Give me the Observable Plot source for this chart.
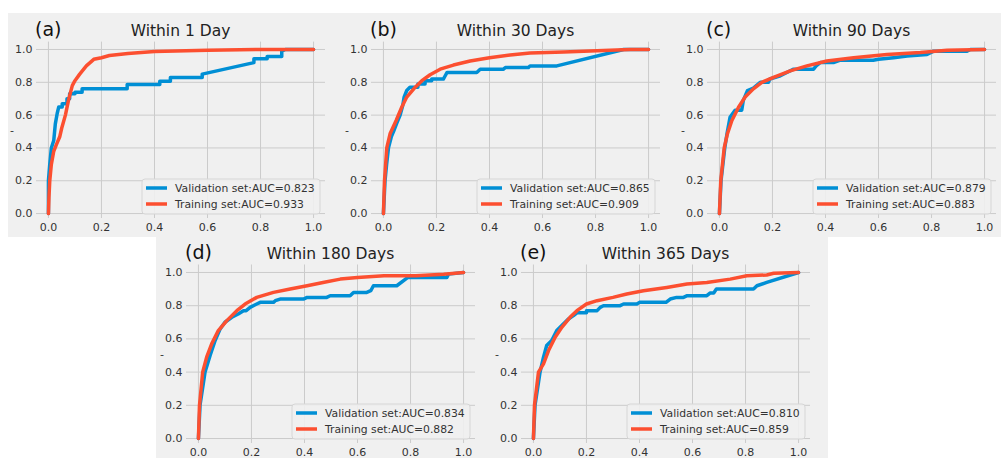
<!DOCTYPE html>
<html><head><meta charset="utf-8">
<script src="https://cdn.jsdelivr.net/npm/d3@7"></script>
<script src="https://cdn.jsdelivr.net/npm/@observablehq/plot@0.6"></script>
<style>
html,body{margin:0;padding:0;background:#fff;}
#root{position:relative;width:1001px;height:458px;overflow:hidden;font-family:"DejaVu Sans",sans-serif;}
#root svg{position:absolute;display:block;}
</style></head><body><div id="root"></div>
<script>
// ---- data ----
const letters = ["(a)", "(b)", "(c)", "(d)", "(e)"];
const titles = ["Within 1 Day", "Within 30 Days", "Within 90 Days", "Within 180 Days", "Within 365 Days"];
const valAUC = ["0.823", "0.865", "0.879", "0.834", "0.810"];
const trainAUC = ["0.933", "0.909", "0.883", "0.882", "0.859"];
const tickValues = [0, 0.2, 0.4, 0.6, 0.8, 1.0];
const tickLabels = ["0.0", "0.2", "0.4", "0.6", "0.8", "1.0"];

// ROC curves: [false positive rate, true positive rate]
const valA = [[0,0],[0,0.2],[0.005,0.3],[0.011,0.4],[0.02,0.445],[0.026,0.547],[0.033,0.61],[0.039,0.65],[0.052,0.65],[0.052,0.67],[0.07,0.67],[0.07,0.7],[0.08,0.7],[0.08,0.73],[0.1,0.73],[0.1,0.74],[0.127,0.74],[0.127,0.76],[0.297,0.76],[0.297,0.787],[0.42,0.787],[0.42,0.807],[0.46,0.807],[0.46,0.83],[0.58,0.83],[0.58,0.85],[0.775,0.92],[0.775,0.943],[0.825,0.943],[0.825,0.957],[0.88,0.957],[0.88,0.99],[0.894,1.0],[1,1]];
const trainA = [[0,0],[0.002,0.1],[0.005,0.2],[0.011,0.3],[0.02,0.38],[0.03,0.42],[0.043,0.47],[0.05,0.52],[0.064,0.6],[0.077,0.7],[0.09,0.78],[0.1,0.81],[0.118,0.85],[0.143,0.9],[0.171,0.94],[0.2,0.95],[0.23,0.963],[0.3,0.975],[0.4,0.988],[0.6,0.995],[0.8,1.0],[1,1]];
const valB = [[0,0],[0.003,0.1],[0.006,0.2],[0.012,0.3],[0.019,0.4],[0.03,0.47],[0.038,0.5],[0.05,0.55],[0.063,0.6],[0.073,0.66],[0.078,0.71],[0.088,0.75],[0.1,0.77],[0.13,0.77],[0.13,0.79],[0.157,0.79],[0.157,0.81],[0.182,0.81],[0.182,0.82],[0.226,0.82],[0.233,0.84],[0.24,0.86],[0.352,0.86],[0.365,0.88],[0.453,0.88],[0.46,0.89],[0.547,0.89],[0.553,0.9],[0.654,0.9],[0.906,1.0],[1,1]];
const trainB = [[0,0],[0.004,0.2],[0.0126,0.4],[0.025,0.486],[0.048,0.567],[0.069,0.648],[0.088,0.71],[0.12,0.77],[0.145,0.81],[0.176,0.846],[0.214,0.88],[0.264,0.905],[0.327,0.93],[0.4,0.95],[0.478,0.967],[0.553,0.978],[0.68,0.984],[0.805,0.992],[0.93,1.0],[1,1]];
const valC = [[0,0],[0.006,0.2],[0.02,0.4],[0.03,0.5],[0.04,0.587],[0.059,0.63],[0.084,0.63],[0.09,0.69],[0.106,0.75],[0.128,0.765],[0.154,0.8],[0.185,0.8],[0.19,0.82],[0.23,0.84],[0.254,0.86],[0.28,0.88],[0.355,0.88],[0.365,0.9],[0.38,0.92],[0.43,0.92],[0.456,0.935],[0.58,0.935],[0.6,0.94],[0.657,0.95],[0.708,0.96],[0.783,0.97],[0.808,0.99],[0.934,0.99],[0.947,1.0],[1,1]];
const trainC = [[0,0],[0.005,0.2],[0.018,0.4],[0.03,0.486],[0.047,0.567],[0.072,0.648],[0.097,0.71],[0.128,0.76],[0.16,0.8],[0.204,0.83],[0.267,0.87],[0.33,0.9],[0.405,0.93],[0.506,0.95],[0.632,0.97],[0.758,0.982],[0.859,0.996],[1,1]];
const valD = [[0,0],[0.006,0.2],[0.025,0.4],[0.044,0.5],[0.063,0.59],[0.082,0.66],[0.1,0.7],[0.126,0.73],[0.15,0.75],[0.17,0.77],[0.18,0.77],[0.195,0.79],[0.22,0.81],[0.233,0.82],[0.283,0.82],[0.29,0.83],[0.308,0.84],[0.396,0.84],[0.41,0.85],[0.484,0.85],[0.497,0.86],[0.572,0.86],[0.585,0.88],[0.635,0.88],[0.65,0.89],[0.66,0.92],[0.748,0.92],[0.79,0.97],[0.937,0.97],[0.943,0.99],[1,1]];
const trainD = [[0,0],[0.004,0.2],[0.016,0.4],[0.031,0.49],[0.05,0.57],[0.075,0.65],[0.107,0.71],[0.145,0.77],[0.176,0.81],[0.22,0.85],[0.283,0.88],[0.346,0.9],[0.41,0.92],[0.47,0.94],[0.535,0.96],[0.6,0.97],[0.7,0.98],[0.82,0.98],[0.925,0.99],[1,1]];
const valE = [[0,0],[0.006,0.2],[0.025,0.4],[0.038,0.49],[0.05,0.56],[0.069,0.59],[0.088,0.65],[0.107,0.68],[0.132,0.72],[0.151,0.74],[0.164,0.757],[0.2,0.757],[0.2,0.77],[0.24,0.77],[0.252,0.79],[0.264,0.8],[0.327,0.8],[0.34,0.81],[0.39,0.81],[0.4,0.82],[0.5,0.82],[0.516,0.84],[0.54,0.85],[0.566,0.85],[0.58,0.86],[0.654,0.86],[0.667,0.877],[0.68,0.877],[0.69,0.9],[0.83,0.9],[0.843,0.92],[0.88,0.94],[1,1]];
const trainE = [[0,0],[0.004,0.2],[0.019,0.4],[0.038,0.45],[0.057,0.53],[0.082,0.61],[0.107,0.67],[0.138,0.73],[0.164,0.77],[0.2,0.81],[0.24,0.83],[0.3,0.85],[0.352,0.87],[0.415,0.89],[0.503,0.91],[0.579,0.93],[0.654,0.94],[0.742,0.96],[0.805,0.98],[0.88,0.985],[0.906,0.995],[1,1]];

const valSeries = [valA, valB, valC, valD, valE];
const trainSeries = [trainA, trainB, trainC, trainD, trainE];

// ---- layout ----
const layout = [
  {left: 8,   top: 13,  width: 330, height: 224, mL: 28, mR: 13, mT: 28.6, mB: 19.0},
  {left: 338, top: 13,  width: 330, height: 224, mL: 33, mR: 8,  mT: 28.6, mB: 19.0},
  {left: 668, top: 13,  width: 333, height: 224, mL: 39, mR: 5,  mT: 28.6, mB: 19.0},
  {left: 156, top: 237, width: 337, height: 221, mL: 30, mR: 18, mT: 27.5, mB: 15.0},
  {left: 493, top: 237, width: 335, height: 221, mL: 28, mR: 18, mT: 27.5, mB: 15.0}
];
const BLUE = "#008fd5", RED = "#fc4f30", GRID = "#cbcbcb", BG = "#f0f0f0";
const FONT = "'DejaVu Sans', sans-serif";

const root = document.getElementById("root");
layout.forEach((L, i) => {
  const fmt = d => tickLabels[tickValues.indexOf(d)];
  const svg = Plot.plot({
    width: L.width, height: L.height,
    marginLeft: L.mL, marginRight: L.mR, marginTop: L.mT, marginBottom: L.mB,
    x: {domain: [-0.045, 1.045]},
    y: {domain: [-0.03, 1.045]},
    style: {background: BG, fontFamily: FONT, fontSize: "11px", color: "#333", overflow: "visible"},
    marks: [
      Plot.gridX(tickValues, {stroke: GRID, strokeOpacity: 1, strokeWidth: 1}),
      Plot.gridY(tickValues, {stroke: GRID, strokeOpacity: 1, strokeWidth: 1}),
      Plot.axisX(tickValues, {tickSize: 0, tickPadding: 5, tickFormat: fmt, fill: "#333", fontSize: 11}),
      Plot.axisY(tickValues, {tickSize: 0, tickPadding: 4, tickFormat: fmt, fill: "#333", fontSize: 11}),
      Plot.line(valSeries[i], {x: d => d[0], y: d => d[1], stroke: BLUE, strokeWidth: 3.5, strokeLinejoin: "round", strokeLinecap: "round"}),
      Plot.line(trainSeries[i], {x: d => d[0], y: d => d[1], stroke: RED, strokeWidth: 3.5, strokeLinejoin: "round", strokeLinecap: "round"})
    ]
  });
  svg.style.left = L.left + "px";
  svg.style.top = L.top + "px";
  const s = d3.select(svg);
  const fL = L.mL, fR = L.width - L.mR, fT = L.mT, fB = L.height - L.mB;
  // title and panel letter
  s.append("text").attr("x", (fL + fR) / 2).attr("y", fT - 6)
    .attr("text-anchor", "middle").attr("font-family", FONT).attr("font-size", 15.5).attr("fill", "#222")
    .text(titles[i]);
  s.append("text").attr("x", fL - 1).attr("y", fT - 6).attr("text-anchor", "start")
    .attr("font-family", FONT).attr("font-size", 19).attr("fill", "#111")
    .text(letters[i]);
  // y label "-"
  s.append("text").attr("x", fL - 26).attr("y", (fT + fB) / 2 + 4).attr("text-anchor", "start")
    .attr("font-family", FONT).attr("font-size", 11).attr("fill", "#333").text("-");
  // legend
  const bw = 178, bh = 35;
  const bx = fR - 5 - bw, by = fB - 4 - bh;
  const g = s.append("g");
  g.append("rect").attr("x", bx).attr("y", by).attr("width", bw).attr("height", bh).attr("rx", 3)
    .attr("fill", BG).attr("fill-opacity", 0.9).attr("stroke", "#d6d6d6").attr("stroke-width", 1);
  const items = [[BLUE, "Validation set:AUC=" + valAUC[i]], [RED, "Training set:AUC=" + trainAUC[i]]];
  items.forEach(([c, t], k) => {
    const yy = by + 9 + k * 16;
    g.append("line").attr("x1", bx + 4).attr("x2", bx + 25).attr("y1", yy).attr("y2", yy)
      .attr("stroke", c).attr("stroke-width", 3.5);
    g.append("text").attr("x", bx + 33).attr("y", yy + 4).attr("text-anchor", "start")
      .attr("font-family", FONT).attr("font-size", 10.8).attr("fill", "#333").text(t);
  });
  root.appendChild(svg);
});
</script></body></html>
